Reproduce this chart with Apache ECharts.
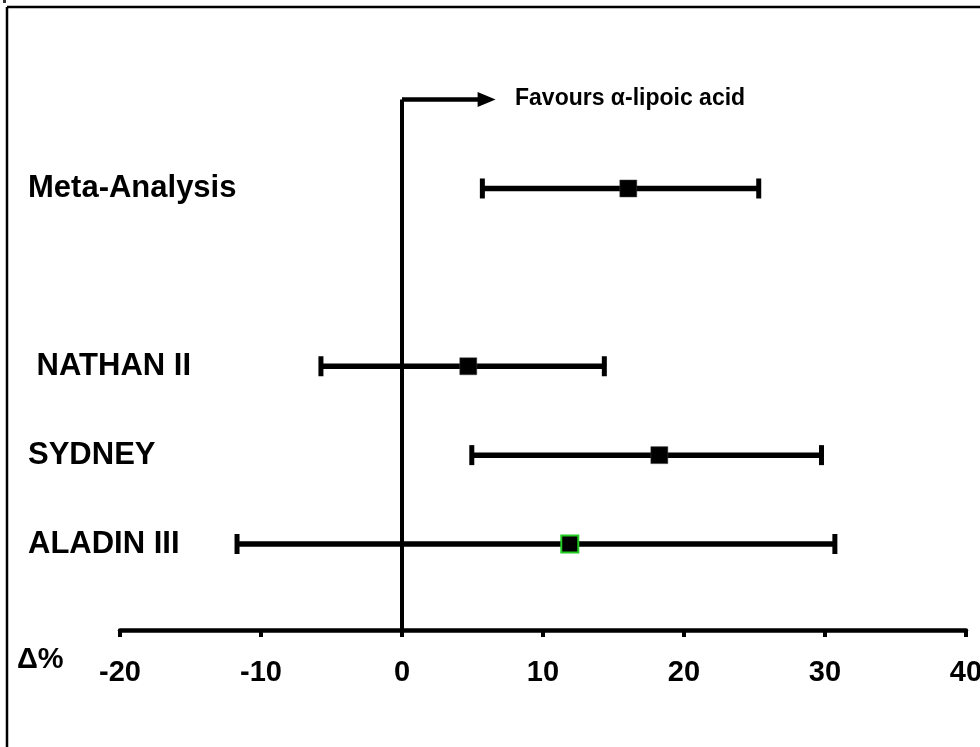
<!DOCTYPE html>
<html>
<head>
<meta charset="utf-8">
<script src="https://cdn.jsdelivr.net/npm/echarts@6/dist/echarts.min.js"></script>
<style>
  html, body { margin: 0; padding: 0; background: #fff; }
  #chart { width: 980px; height: 747px; }
</style>
</head>
<body>
<div id="chart"></div>
<script>
// ---- data ----
var studies = ['ALADIN III', 'SYDNEY', ' NATHAN II', 'Meta-Analysis'];
var rowPos = [1, 2, 3, 5];
var meanVals = [11.9, 18.25, 4.7, 16.05];
var lowerVals = [-11.7, 4.95, -5.75, 5.7];
var upperVals = [30.7, 29.75, 14.35, 25.3];
var xTicks = [-20, -10, 0, 10, 20, 30, 40];
var arrowEnd = 6.0;
var favoursText = 'Favours \u03b1-lipoic acid';
var axisTitle = '\u0394%';

var FONT = '"Liberation Sans", Arial, Helvetica, sans-serif';

var rowName = {};
rowPos.forEach(function (r, i) { rowName[r] = studies[i]; });

var barData = rowPos.map(function (r, i) { return [lowerVals[i], upperVals[i], r]; });
var pointData = rowPos.map(function (r, i) {
  var d = { value: [meanVals[i], r] };
  if (studies[i] === 'ALADIN III') {
    d.itemStyle = { color: '#000', borderColor: '#22cc22', borderWidth: 2, opacity: 1 };
  }
  return d;
});

var chart = echarts.init(document.getElementById('chart'));
chart.setOption({
  animation: false,
  backgroundColor: '#fff',
  grid: {
    left: 120, right: 14, top: 99.6, bottom: 114.1,
    containLabel: false, outerBoundsMode: 'none'
  },
  xAxis: {
    type: 'value',
    min: xTicks[0],
    max: xTicks[xTicks.length - 1],
    interval: 10,
    offset: -3,
    axisLine: { show: true, lineStyle: { color: '#000', width: 4.5 } },
    axisTick: { show: true, inside: false, length: 7, lineStyle: { color: '#000', width: 4 } },
    axisLabel: {
      color: '#000', fontSize: 29, fontWeight: 'bold', fontFamily: FONT, margin: 29
    },
    splitLine: { show: false }
  },
  yAxis: {
    type: 'value',
    min: 0,
    max: 6,
    interval: 1,
    axisLine: { show: false },
    axisTick: { show: false },
    splitLine: { show: false },
    axisLabel: {
      align: 'left',
      margin: 92,
      color: '#000', fontSize: 31, fontWeight: 'bold', fontFamily: FONT,
      formatter: function (v) { return rowName[v] || ''; }
    }
  },
  series: [
    {
      type: 'line',
      data: [[0, 6], [0, 0]],
      symbol: 'none',
      lineStyle: { color: '#000', width: 4 },
      silent: true,
      z: 1,
      markLine: {
        silent: true,
        symbol: ['none', 'triangle'],
        symbolSize: [15, 18],
        label: { show: false },
        lineStyle: { color: '#000', width: 4.5, type: 'solid' },
        data: [[{ coord: [0, 6] }, { coord: [arrowEnd, 6] }]]
      }
    },
    {
      type: 'custom',
      data: barData,
      z: 2,
      renderItem: function (params, api) {
        var lo = api.coord([api.value(0), api.value(2)]);
        var hi = api.coord([api.value(1), api.value(2)]);
        var y = lo[1];
        var h = 10;
        var st = { stroke: '#000', lineWidth: 5.5 };
        var cs = { stroke: '#000', lineWidth: 5 };
        return {
          type: 'group',
          children: [
            { type: 'line', shape: { x1: lo[0], y1: y, x2: hi[0], y2: y }, style: st },
            { type: 'line', shape: { x1: lo[0], y1: y - h, x2: lo[0], y2: y + h }, style: cs },
            { type: 'line', shape: { x1: hi[0], y1: y - h, x2: hi[0], y2: y + h }, style: cs }
          ]
        };
      }
    },
    {
      type: 'scatter',
      data: pointData,
      symbol: 'rect',
      symbolSize: 17,
      itemStyle: { color: '#000', borderColor: '#444', borderWidth: 0.5, opacity: 1 },
      z: 3
    }
  ],
  graphic: [
    { type: 'line', shape: { x1: 7, y1: 7, x2: 980, y2: 7 }, style: { stroke: '#000', lineWidth: 2.5 } },
    { type: 'line', shape: { x1: 7, y1: 7, x2: 7, y2: 747 }, style: { stroke: '#000', lineWidth: 2.5 } },
    { type: 'rect', shape: { x: 3, y: 0, width: 3, height: 3 }, style: { fill: '#333' } },
    {
      type: 'text', left: 515, top: 87,
      style: { text: favoursText, fill: '#000', font: 'bold 23px ' + FONT }
    },
    {
      type: 'text', left: 17, top: 645,
      style: { text: axisTitle, fill: '#000', font: 'bold 29px ' + FONT }
    }
  ]
});
</script>
</body>
</html>
